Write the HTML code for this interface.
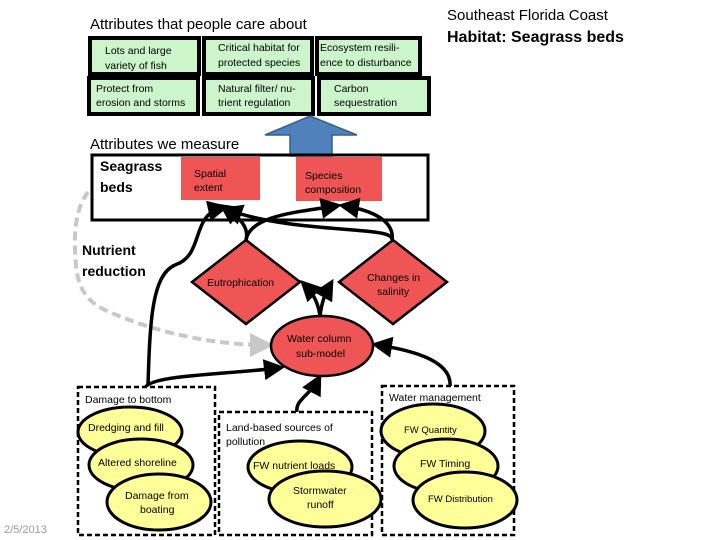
<!DOCTYPE html>
<html><head><style>body{margin:0;background:#fff}svg{display:block;font-family:"Liberation Sans",sans-serif}</style></head><body>
<svg width="720" height="540" viewBox="0 0 720 540" xmlns="http://www.w3.org/2000/svg">
<defs>
<marker id="a" markerWidth="6" markerHeight="6" refX="4" refY="3" orient="auto" markerUnits="strokeWidth"><path d="M0,0 L6,3 L0,6 z" fill="#000"/></marker>
<marker id="g" markerWidth="6" markerHeight="6" refX="4" refY="3" orient="auto" markerUnits="strokeWidth"><path d="M0,0 L6,3 L0,6 z" fill="#c8c8c8"/></marker>
</defs>
<text x="90" y="29" font-size="15">Attributes that people care about</text>
<text x="447" y="20" font-size="15">Southeast Florida Coast</text>
<text x="447" y="42" font-size="16" font-weight="bold">Habitat: Seagrass beds</text>
<g fill="#ccf5cc" stroke="#000" stroke-width="4">
<rect x="90" y="38" width="109" height="36"/><rect x="204" y="38" width="108" height="36"/><rect x="317" y="38" width="103" height="36"/>
<rect x="89" y="78" width="109" height="36"/><rect x="204" y="78" width="109" height="36"/><rect x="319" y="78" width="110" height="36"/>
</g>
<g font-size="10.5" fill="#000">
<text x="105" y="54">Lots and large</text><text x="105" y="69">variety of fish</text>
<text x="218" y="51">Critical habitat for</text><text x="218" y="66">protected species</text>
<text x="320" y="51">Ecosystem resili-</text><text x="320" y="66">ence to disturbance</text>
<text x="96" y="92">Protect from</text><text x="96" y="106">erosion and storms</text>
<text x="218" y="92">Natural filter/ nu-</text><text x="218" y="106">trient regulation</text>
<text x="334" y="92">Carbon</text><text x="334" y="106">sequestration</text>
</g>
<path d="M310,116 L357,135 L332,135 L332,156 L290,156 L290,135 L265,135 Z" fill="#4f81bd" stroke="#385d8a" stroke-width="1.5"/>
<text x="90" y="149" font-size="15">Attributes we measure</text>
<rect x="92" y="155" width="336" height="65" fill="none" stroke="#000" stroke-width="3"/>
<text x="100" y="171" font-size="14" font-weight="bold">Seagrass</text>
<text x="100" y="192" font-size="14" font-weight="bold">beds</text>
<rect x="181" y="157" width="79" height="43" fill="#f05555"/>
<rect x="296" y="157" width="86" height="44" fill="#f05555"/>
<text x="194" y="177" font-size="10.5">Spatial</text><text x="194" y="191" font-size="10.5">extent</text>
<text x="305" y="179" font-size="10.5">Species</text><text x="305" y="193" font-size="10.5">composition</text>
<text x="82" y="255" font-size="14" font-weight="bold">Nutrient</text>
<text x="82" y="276" font-size="14" font-weight="bold">reduction</text>
<path d="M88,192 C78,205 74,225 75,250 C76,280 80,298 105,310 C160,335 220,345 266,345" fill="none" stroke="#c8c8c8" stroke-width="4" stroke-dasharray="9,5" marker-end="url(#g)"/>
<g fill="none" stroke="#000" stroke-width="3.5">
<path d="M148,385 C150,320 152,275 175,265 C205,255 190,215 222,208" marker-end="url(#a)"/>
<path d="M246,240 C250,225 235,215 225,208" marker-end="url(#a)"/>
<path d="M246,240 C250,215 300,212 335,206" marker-end="url(#a)"/>
<path d="M392,240 C395,225 300,235 228,210" marker-end="url(#a)"/>
<path d="M392,240 C395,220 370,210 345,206" marker-end="url(#a)"/>
<path d="M320,316 C318,300 310,290 305,285" marker-end="url(#a)"/>
<path d="M320,316 C322,300 326,292 330,285" marker-end="url(#a)"/>
<path d="M145,388 C150,375 220,375 278,368" marker-end="url(#a)"/>
<path d="M297,412 C295,400 310,395 318,380" marker-end="url(#a)"/>
<path d="M450,386 C452,360 410,350 378,345" marker-end="url(#a)"/>
</g>
<g fill="#f05555" stroke="#000" stroke-width="2.5">
<path d="M246,240 L300,282 L246,324 L192,282 Z"/>
<path d="M393,240 L447,282 L393,324 L339,282 Z"/>
<ellipse cx="322" cy="346" rx="51" ry="30"/>
</g>
<text x="207" y="286" font-size="10.5">Eutrophication</text>
<text x="367" y="281" font-size="10.5">Changes in</text><text x="377" y="295" font-size="10.5">salinity</text>
<text x="287" y="342" font-size="10.5">Water column</text><text x="296" y="357" font-size="10.5">sub-model</text>
<g fill="#fff" stroke="#000" stroke-width="2.5" stroke-dasharray="5,3">
<rect x="78" y="387" width="137" height="148"/>
<rect x="219" y="412" width="153" height="123"/>
<rect x="382" y="386" width="132" height="149"/>
</g>
<g fill="#ffff99" stroke="#000" stroke-width="3">
<ellipse cx="130" cy="432" rx="52" ry="25"/><ellipse cx="141" cy="465" rx="52" ry="26"/><ellipse cx="159" cy="502" rx="52" ry="28"/>
<ellipse cx="300" cy="467" rx="52" ry="26"/><ellipse cx="325" cy="499" rx="56" ry="28"/>
<ellipse cx="433" cy="431" rx="52" ry="27"/><ellipse cx="446" cy="466" rx="52" ry="27"/><ellipse cx="465" cy="500" rx="52" ry="28"/>
</g>
<g font-size="10.5">
<text x="85" y="403">Damage to bottom</text>
<text x="88" y="431">Dredging and fill</text>
<text x="98" y="466">Altered shoreline</text>
<text x="125" y="499">Damage from</text><text x="140" y="513">boating</text>
<text x="226" y="431">Land-based sources of</text><text x="226" y="445">pollution</text>
<text x="253" y="469">FW nutrient loads</text>
<text x="293" y="494">Stormwater</text><text x="307" y="508">runoff</text>
<text x="389" y="401">Water management</text>
<text x="404" y="433" font-size="9.5">FW Quantity</text>
<text x="420" y="467">FW Timing</text>
<text x="428" y="502" font-size="9.5">FW Distribution</text>
</g>
<text x="4" y="533" font-size="11" fill="#999">2/5/2013</text>
</svg>
</body></html>
